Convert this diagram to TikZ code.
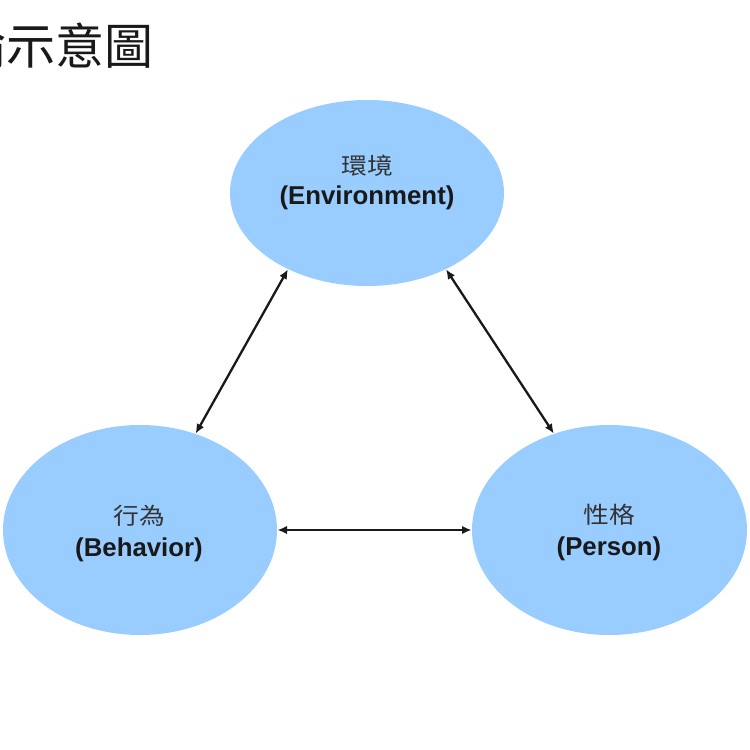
\documentclass[tikz,border=0pt]{standalone}
\usepackage{fontspec}
\setsansfont{Liberation Sans}
\newfontfamily\cjk{Noto Sans CJK TC}
\newfontfamily\cjkwide[FakeStretch=1.12]{Noto Sans CJK TC}
\usetikzlibrary{shapes.geometric,arrows.meta}
\definecolor{bubble}{RGB}{153,204,255}
\definecolor{ink}{RGB}{25,25,25}
\definecolor{cjkgray}{RGB}{51,51,51}
\tikzset{
  bubble/.style={ellipse, fill=bubble, draw=none, inner sep=0pt},
  cjklabel/.style={inner sep=0pt, text=cjkgray, font=\cjkwide\fontsize{11.5}{11.5}\selectfont},
  enlabel/.style={inner sep=0pt, text=black!90, font=\sffamily\bfseries\fontsize{12.9}{12.9}\selectfont},
  link/.style={draw=ink, line width=1.15pt, {Latex[length=4.8pt,width=4.2pt]}-{Latex[length=4.8pt,width=4.2pt]}}
}
\begin{document}
\begin{tikzpicture}[x=0.5pt,y=-0.5pt]
\useasboundingbox[fill=white] (0,0) rectangle (750,750);
% title (partly cut off at the left edge, as in the reference)
\node[anchor=base east, inner sep=0pt, text=black!90, font=\cjk\fontsize{24.5}{24.5}\selectfont] (title) at (154,64) {論示意圖};
% ellipses
\node[bubble, minimum width=137pt, minimum height=93pt] (E) at (367,193) {};
\node[bubble, minimum width=137pt, minimum height=105pt] (B) at (140,530) {};
\node[bubble, minimum width=137.5pt, minimum height=105pt] (P) at (609.5,530) {};
% labels
\node[cjklabel] (Ec) at (367,166) {環境};
\node[enlabel] (El) at (367,198) {(Environment)};
\node[cjklabel] (Bc) at (139,516) {行為};
\node[enlabel] (Bl) at (139,550) {(Behavior)};
\node[cjklabel] (Pc) at (609,515) {性格};
\node[enlabel] (Pl) at (609,549) {(Person)};
% connectors
\draw[link] (E.224) -- (B.60);
\draw[link] (E.316) -- (P.120);
\draw[link] (B.east) -- (P.west);
\end{tikzpicture}
\end{document}
